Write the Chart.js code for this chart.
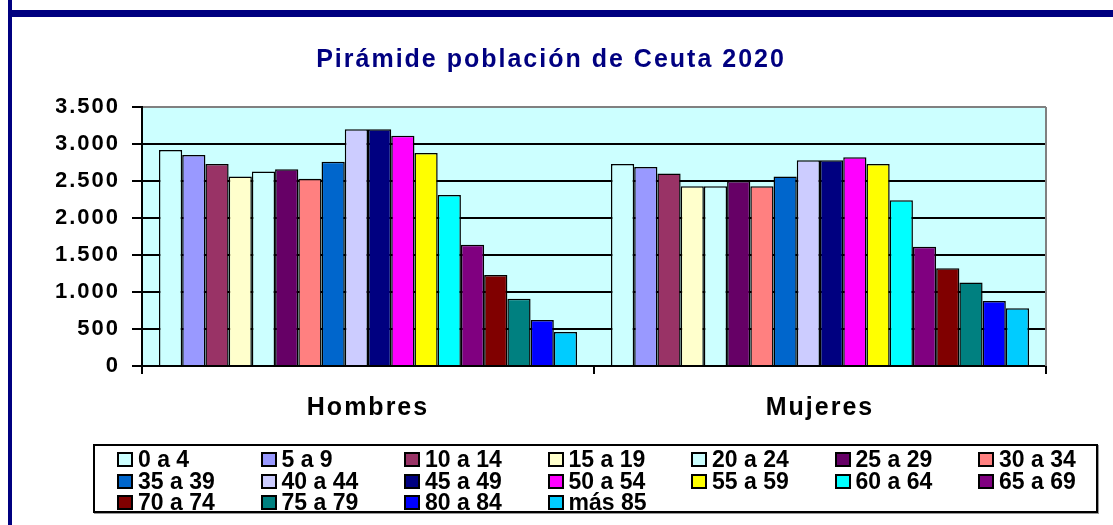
<!DOCTYPE html>
<html>
<head>
<meta charset="utf-8">
<title>Pirámide población de Ceuta 2020</title>
<script src="https://cdn.jsdelivr.net/npm/chart.js@4/dist/chart.umd.min.js"></script>
<style>
    body { margin: 0; background: #fff; }
    #wrap { position: relative; width: 1113px; height: 525px; overflow: hidden; }
    #popChart { position: absolute; left: 0; top: 0; }
    .frame-top { position: absolute; left: 8px; top: 10px; width: 1105px; height: 7px; background: #000080; }
    .frame-left { position: absolute; left: 8px; top: 0; width: 4px; height: 525px; background: #000080; }
    #legend {
        position: absolute; left: 93px; top: 444px; width: 1005px; height: 69px;
        box-sizing: border-box; border: 2px solid #000; box-shadow: 1px 1px 0 #999;
        display: grid; grid-template-columns: repeat(7, 143.5px);
        padding: 3px 0 0 22px;
        font: bold 23px "Liberation Sans", Arial, sans-serif; line-height: 21.5px; color: #000;
    }
    #legend .item { display: flex; align-items: center; white-space: nowrap; }
    #legend .sw { width: 16px; height: 15px; box-sizing: border-box; border: 2px solid #000; margin-right: 5px; flex: none; }
</style>
</head>
<body>
<div id="wrap">
    <canvas id="popChart" width="1113" height="525"></canvas>
    <div class="frame-left"></div>
    <div class="frame-top"></div>
    <div id="legend"></div>
</div>
<script>
const sexes = ['Hombres', 'Mujeres'];
const ageGroups = ['0 a 4', '5 a 9', '10 a 14', '15 a 19', '20 a 24', '25 a 29', '30 a 34',
    '35 a 39', '40 a 44', '45 a 49', '50 a 54', '55 a 59', '60 a 64', '65 a 69',
    '70 a 74', '75 a 79', '80 a 84', 'más 85'];
const hombres = [2920, 2850, 2730, 2560, 2630, 2660, 2530, 2760, 3200, 3200, 3110, 2880, 2310, 1640, 1230, 910, 620, 460];
const mujeres = [2730, 2690, 2600, 2430, 2430, 2500, 2430, 2560, 2780, 2780, 2820, 2730, 2240, 1610, 1320, 1130, 880, 780];
const colors = ['#CCFFFF', '#9999FF', '#993366', '#FFFFCC', '#CCFFFF', '#660066', '#FF8080',
    '#0066CC', '#CCCCFF', '#000080', '#FF00FF', '#FFFF00', '#00FFFF', '#800080',
    '#800000', '#008080', '#0000FF', '#00CCFF'];
const yMax = 3500;
const yStep = 500;

const fontFamily = '"Liberation Sans", Arial, sans-serif';

// thousands with a dot, like 3.500
function formatNum(v) {
    return String(v).replace(/\B(?=(\d{3})+(?!\d))/g, '.');
}

// plot background, grey right border, wider letter spacing of the old chart
const plotArea = {
    id: 'plotArea',
    beforeDraw(chart) {
        const { ctx, chartArea: a } = chart;
        ctx.letterSpacing = '2px';
        ctx.save();
        ctx.fillStyle = '#CCFFFF';
        ctx.fillRect(a.left, a.top, a.right - a.left, a.bottom - a.top);
        ctx.restore();
    },
    afterDatasetsDraw(chart) {
        const { ctx, chartArea: a } = chart;
        ctx.save();
        ctx.strokeStyle = '#808080';
        ctx.lineWidth = 2;
        ctx.beginPath();
        ctx.moveTo(a.right, a.top);
        ctx.lineTo(a.right, a.bottom);
        ctx.stroke();
        ctx.restore();
    }
};

// Population Chart
const popCtx = document.getElementById('popChart').getContext('2d');
const popChart = new Chart(popCtx, {
    type: 'bar',
    data: {
        labels: sexes,
        datasets: ageGroups.map((g, i) => ({
            label: g,
            data: [hombres[i], mujeres[i]],
            backgroundColor: colors[i],
            borderColor: '#000',
            borderWidth: 1.5,
            categoryPercentage: 0.925,
            barPercentage: 1
        }))
    },
    options: {
        responsive: false,
        animation: false,
        layout: { padding: { left: 56, right: 67, top: 0, bottom: 100 } },
        plugins: {
            legend: { display: false },
            tooltip: { enabled: false },
            title: {
                display: true,
                text: 'Pirámide población de Ceuta 2020',
                color: '#000080',
                font: { family: fontFamily, size: 25, weight: 'bold', lineHeight: 1.2 },
                padding: { top: 45, bottom: 32 }
            }
        },
        scales: {
            x: {
                afterFit: s => { s.height = 59; },
                grid: { drawOnChartArea: false, drawTicks: true, tickLength: 8, color: '#000', lineWidth: 2 },
                border: { color: '#000', width: 2 },
                ticks: {
                    color: '#000',
                    padding: 19,
                    font: { family: fontFamily, size: 25, weight: 'bold', lineHeight: 1.2 }
                }
            },
            y: {
                min: 0,
                max: yMax,
                afterFit: s => { s.width = 86; },
                grid: {
                    color: c => (c.tick && c.tick.value === yMax ? '#808080' : '#000'),
                    tickColor: '#000',
                    lineWidth: 2,
                    tickLength: 10
                },
                border: { color: '#000', width: 2 },
                ticks: {
                    stepSize: yStep,
                    color: '#000',
                    padding: 12,
                    font: { family: fontFamily, size: 22, weight: 'bold' },
                    callback: v => formatNum(v)
                }
            }
        }
    },
    plugins: [plotArea]
});

// html legend, 7 columns like the original
const legendEl = document.getElementById('legend');
ageGroups.forEach((g, i) => {
    const item = document.createElement('div');
    item.className = 'item';
    item.innerHTML = '<span class="sw" style="background:' + colors[i] + '"></span><span>' + g + '</span>';
    legendEl.appendChild(item);
});
</script>
</body>
</html>
